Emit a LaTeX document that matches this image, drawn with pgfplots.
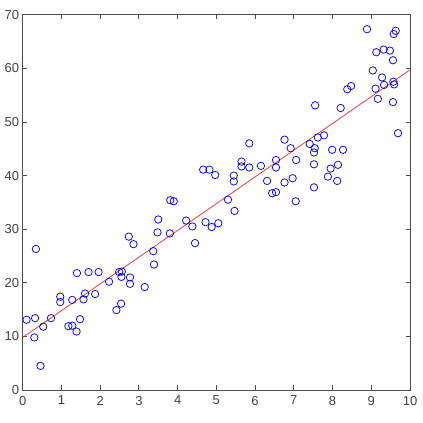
\documentclass[border=0pt]{standalone}
\usepackage{fontspec}
\setmainfont{Liberation Sans}
\usepackage{pgfplots}
\pgfplotsset{compat=1.18}

\begin{document}
\begin{tikzpicture}
\begin{axis}[
  scale only axis,
  width=387.3pt, height=375.3pt,
  xmin=0, xmax=10, ymin=0, ymax=70,
  xtick={0,1,...,10}, ytick={0,10,...,70},
  tick align=inside,
  major tick length=4.5pt,
  axis line style={black!70, line width=0.9pt},
  every tick/.style={black!70, line width=0.8pt},
  tick label style={font=\fontsize{13}{15}\selectfont, text=black!75},
  xticklabel style={yshift=-2.5pt},
  /pgf/number format/assume math mode=true,
]
\addplot[only marks, mark=o, mark size=3.7pt, blue, mark options={line width=0.75pt}] coordinates {
(0.10,13.1) (0.32,13.4) (0.30,9.8) (0.34,26.3) (0.46,4.5) (0.53,11.8) (0.73,13.4)
(0.97,17.4) (0.97,16.4) (1.18,11.9) (1.28,12.0) (1.28,16.8) (1.39,10.9) (1.40,21.8)
(1.48,13.2) (1.57,16.9) (1.61,18.0) (1.70,22.0) (1.87,17.9) (1.96,22.0) (2.23,20.2)
(2.42,14.9) (2.49,22.0) (2.56,22.1) (2.55,21.1) (2.54,16.1) (2.74,28.6) (2.86,27.2)
(2.77,21.0) (2.77,19.8) (3.15,19.2) (3.37,25.9) (3.39,23.4) (3.50,31.8) (3.48,29.4)
(3.80,29.2) (3.81,35.4) (3.90,35.2) (4.22,31.6) (4.38,30.5) (4.45,27.4) (4.72,31.3)
(4.88,30.4) (5.05,31.1) (4.66,41.1) (4.82,41.1) (4.97,40.1) (5.30,35.5) (5.47,33.4)
(5.45,40.0) (5.45,38.9) (5.65,42.6) (5.65,41.7) (5.85,41.5) (5.85,46.0) (6.15,41.8)
(6.31,39.0) (6.44,36.7) (6.54,36.9) (6.54,42.9) (6.54,41.5) (6.76,46.7) (6.92,45.1)
(7.06,42.9) (6.76,38.7) (6.97,39.5) (7.05,35.2) (7.41,45.9) (7.55,53.1) (7.54,45.1)
(7.52,44.3) (7.52,42.1) (7.52,37.8) (7.62,47.1) (7.78,47.5) (7.99,44.8) (8.27,44.8)
(7.95,41.3) (7.88,39.8) (8.14,42.0) (8.12,39.0) (8.21,52.6) (8.38,56.1) (8.48,56.7)
(8.89,67.3) (9.04,59.6) (9.13,63.0) (9.11,56.2) (9.17,54.3) (9.28,58.3) (9.32,63.5)
(9.33,56.9) (9.48,63.3) (9.56,61.5) (9.57,57.5) (9.59,57.0) (9.56,53.7) (9.58,66.4)
(9.63,67.0) (9.69,47.9)
};
\addplot[red!85!white, line width=0.7pt] coordinates {(0,9.8) (10,59.7)};
\end{axis}
% page frame like the reference image
\path (current axis.south west) ++(-22.7pt,-33pt) coordinate (bl);
\path (current axis.north east) ++(12.7pt,14.7pt) coordinate (tr);
\path (bl) rectangle (tr);
\end{tikzpicture}
\end{document}
